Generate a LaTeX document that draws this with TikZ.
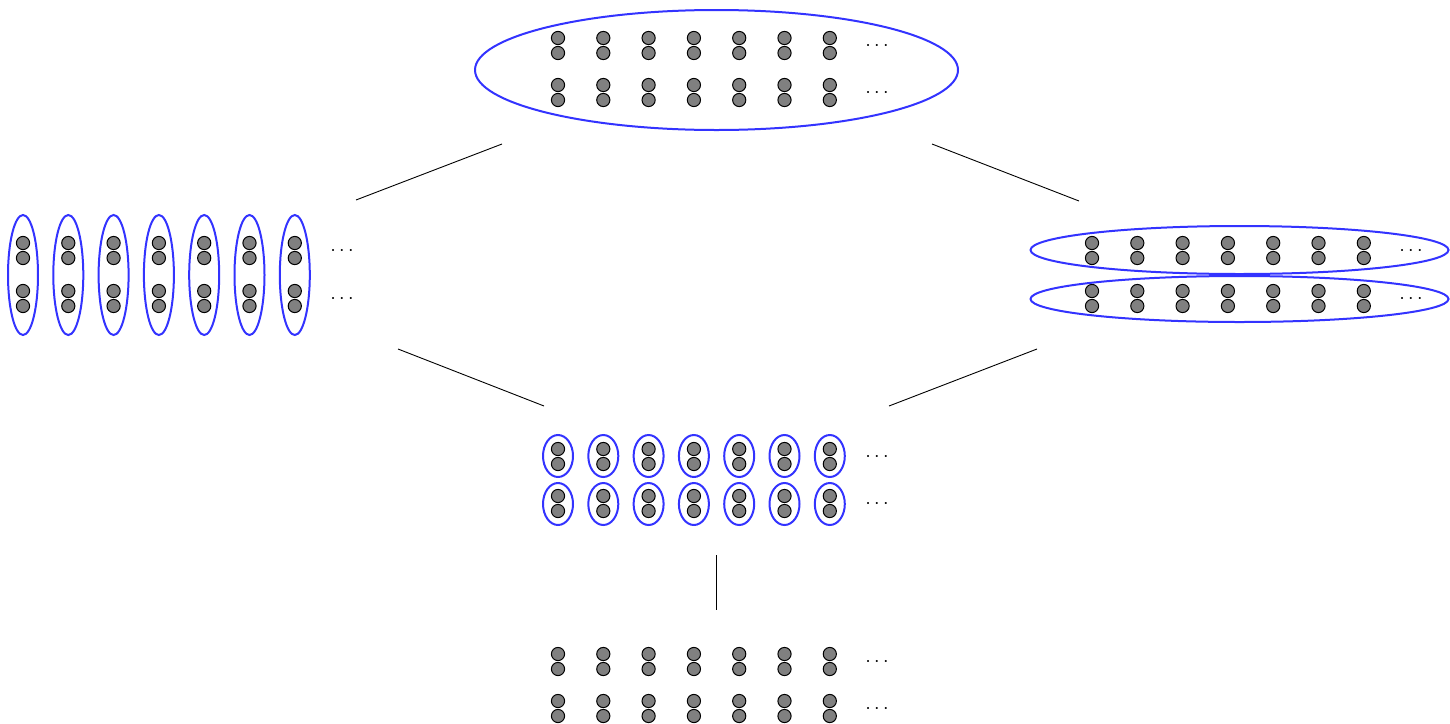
\documentclass[tikz,border=0pt]{standalone}
\usetikzlibrary{shapes.geometric}
\tikzstyle{atom}=[circle,draw,fill=gray,line width=0.5pt,minimum size=6.6pt,inner sep=0pt]
\tikzstyle{group}=[ellipse,draw=blue!80,line width=1pt,inner sep=0pt]
\tikzstyle{link}=[draw,line width=0.45pt,-]
\tikzstyle{more}=[inner sep=0pt]
\begin{document}
\begin{tikzpicture}[x=0.5pt,y=-0.5pt]
      \useasboundingbox (0,0) rectangle (1450,723);
      %atoms
      \foreach \grp/\xo/\ya/\yb in {
        top/558/38/85,
        left/23/243/291,
        right/1092/243/291,
        mid/558/449/496,
        bot/558/654/701}
      {
        \foreach \i in {0,...,6}
        {
          \node[atom] (\grp-a\i) at (\xo+45.3*\i,\ya) {};
          \node[atom] (\grp-b\i) at (\xo+45.3*\i,\ya+15) {};
          \node[atom] (\grp-c\i) at (\xo+45.3*\i,\yb) {};
          \node[atom] (\grp-d\i) at (\xo+45.3*\i,\yb+15) {};
        };
        \node[more] (\grp-dotsa) at (\xo+319,\ya+8) {$\cdots$};
        \node[more] (\grp-dotsb) at (\xo+319,\yb+8) {$\cdots$};
      };
      %blocks
      \node[group, minimum width=241.5pt, minimum height=60pt] (top-set) at (716.5,70) {};
      \node[group, minimum width=209pt, minimum height=24pt] (right-seta) at (1239.5,250) {};
      \node[group, minimum width=209pt, minimum height=23pt] (right-setb) at (1239.5,299) {};
      \foreach \i in {0,...,6}
      {
        \node[group, minimum width=15pt, minimum height=60pt] (left-set\i) at (23+45.3*\i,275) {};
        \node[group, minimum width=15pt, minimum height=21pt] (mid-seta\i) at (558+45.3*\i,456) {};
        \node[group, minimum width=15pt, minimum height=21pt] (mid-setb\i) at (558+45.3*\i,504) {};
      };
      %edges
      \foreach \name/\x/\y in {
        tl/502/144, lt/356/200, tr/932/144, rt/1079/201,
        lb/398/349, ml/544/406, rb/1037/349, mr/889/406,
        mb/716/555, bt/716/610}
      {
        \coordinate (\name) at (\x,\y);
      };
      \path
      \foreach \startnode/\endnode in {tl/lt, tr/rt, lb/ml, rb/mr, mb/bt}
      {
        (\startnode) edge[link] (\endnode)
      };
\end{tikzpicture}
\end{document}
